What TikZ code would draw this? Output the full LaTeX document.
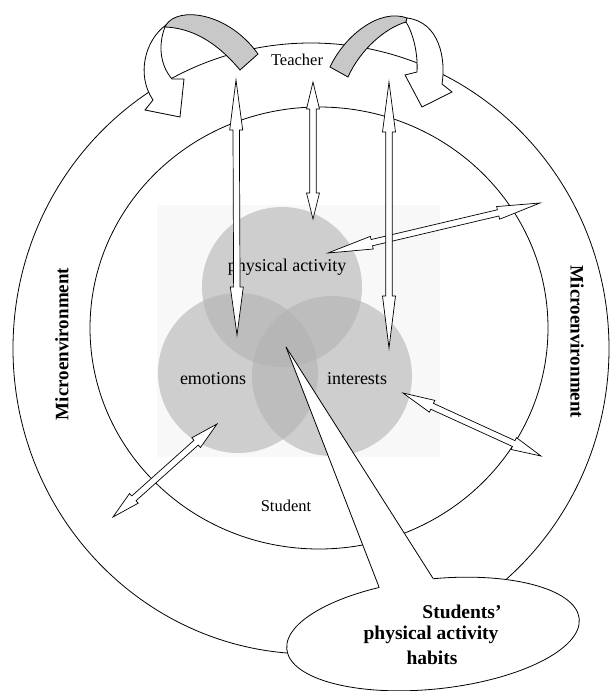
\documentclass[tikz,border=0pt]{standalone}
\usepackage{fontspec}
\setmainfont{Liberation Serif}
\usetikzlibrary{calc,shapes.geometric}

\newcommand{\myDblArrow}[4]{%
 \draw[arrowshape] (#1)
 -- ($(#1)!#3!(#2)!6.5pt!90:(#2)$)
 -- ($(#1)!#3!(#2)!3.2pt!90:(#2)$)
 -- ($(#2)!#4!(#1)!3.2pt!-90:(#1)$)
 -- ($(#2)!#4!(#1)!6.5pt!-90:(#1)$)
 -- (#2)
 -- ($(#2)!#4!(#1)!6.5pt!90:(#1)$)
 -- ($(#2)!#4!(#1)!3.2pt!90:(#1)$)
 -- ($(#1)!#3!(#2)!3.2pt!-90:(#2)$)
 -- ($(#1)!#3!(#2)!6.5pt!-90:(#2)$)
 -- cycle;}

\definecolor{bandgray}{RGB}{200,200,200}
\definecolor{venngray}{RGB}{178,178,178}
\definecolor{backgray}{RGB}{248,248,248}

\tikzset{
 ring/.style={draw=black, line width=0.8pt},
 arrowshape/.style={draw=black, fill=white, line width=0.7pt, line join=miter},
 band/.style={draw=black, fill=bandgray, line width=0.8pt},
 bandwhite/.style={draw=black, fill=white, line width=0.8pt},
 venn/.style={fill=venngray, fill opacity=0.6},
 lab/.style={font=\fontsize{18}{20}\selectfont, inner sep=0pt},
 smalllab/.style={font=\fontsize{16.5}{19}\selectfont, inner sep=0pt},
 boldlab/.style={font=\fontsize{19}{21}\selectfont\bfseries, inner sep=0pt},
 bubtext/.style={font=\fontsize{19.5}{22}\selectfont\bfseries, inner sep=0pt}
}

\begin{document}
\begin{tikzpicture}[x=1pt,y=-1pt]
\useasboundingbox (0,0) rectangle (613,691);

% rings
\draw[ring] (311,348.5) ellipse (298 and 305.5);
\draw[ring] (319,328) ellipse (229 and 221);

% light background square
\fill[backgray] (157,205) rectangle (440,457);

% Venn circles
\fill[venn] (282,287) circle (80);
\fill[venn] (238,373) circle (80);
\fill[venn] (332,376) circle (80);

\node[lab] (pa) at (287,267) {physical activity};
\node[lab] (em) at (213,379) {emotions};
\node[lab] (in) at (357,379) {interests};

% diagonal double arrows
\coordinate (d1a) at (328,253);
\coordinate (d1b) at (540,203);
\coordinate (d2a) at (403,393);
\coordinate (d2b) at (541,456);
\coordinate (d3a) at (217,424);
\coordinate (d3b) at (113,517);
\myDblArrow{d1a}{d1b}{45pt}{43pt}
\myDblArrow{d2a}{d2b}{32pt}{30pt}
\myDblArrow{d3a}{d3b}{28pt}{28pt}

% vertical double arrows
\coordinate (vlT) at (236,80);
\coordinate (vlB) at (237,335);
\coordinate (vmT) at (313,82);
\coordinate (vmB) at (313,219);
\coordinate (vrT) at (389,82);
\coordinate (vrB) at (389,348);
\myDblArrow{vlT}{vlB}{50pt}{48pt}
\myDblArrow{vmT}{vmB}{27pt}{26pt}
\myDblArrow{vrT}{vrB}{50pt}{52pt}

% left curved arrow
\draw[band] (166,25) .. controls (178,6) and (228,12) .. (258,54) -- (240,70)
  .. controls (215,40) and (190,28) .. (165,27) -- cycle;
\draw[bandwhite] (166,25) .. controls (145,40) and (136,75) .. (153,100)
  -- (145,110) -- (180,117) -- (184,79) -- (172,79)
  .. controls (160,65) and (158,45) .. (165,27) -- cycle;

% right curved arrow
\draw[band] (330,67) .. controls (345,35) and (380,8) .. (407,18) -- (406,22)
  .. controls (385,28) and (360,50) .. (348,77) -- cycle;
\draw[bandwhite] (407,18) .. controls (440,22) and (446,60) .. (442,84)
  -- (452,92) -- (422,107) -- (405,75) -- (417,72)
  .. controls (418,55) and (414,35) .. (406,22) -- cycle;

% speech bubble
\node[ellipse, draw=black, fill=white, line width=0.8pt, minimum width=294pt,
  minimum height=110pt, inner sep=0pt, rotate=6] (bub) at (433,634) {};
\coordinate (tip) at (286,347);
\fill[white] (tip) -- (bub.133) -- ($(bub.133)!0.12!(bub.center)$)
  -- ($(bub.84)!0.12!(bub.center)$) -- (bub.84) -- cycle;
\draw[ring] (tip) -- (bub.133);
\draw[ring] (tip) -- (bub.84);

\node[bubtext] (b1) at (462,612) {Students’};
\node[bubtext] (b2) at (431,635) {physical activity};
\node[bubtext] (b3) at (432,658) {habits};

% labels
\node[smalllab] (teacher) at (297,60) {Teacher};
\node[smalllab] (student) at (286,506) {Student};
\node[boldlab, rotate=90] (meL) at (62,344) {Microenvironment};
\node[boldlab, rotate=-90] (meR) at (577,342) {Microenvironment};
\end{tikzpicture}
\end{document}
